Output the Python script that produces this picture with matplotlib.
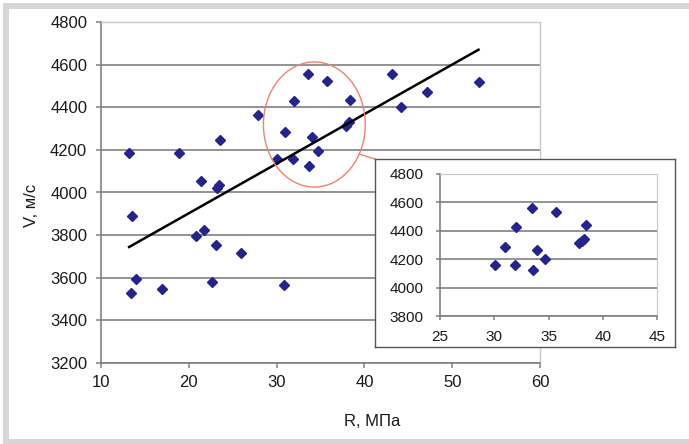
import numpy as np
import matplotlib
matplotlib.use("Agg")
import matplotlib.pyplot as plt
from matplotlib.patches import Ellipse, Rectangle, ConnectionPatch

plt.rcParams['font.family'] = ['Liberation Sans', 'DejaVu Sans']

# Data: R (MPa) and V (m/s)
R = [13.2, 13.5, 18.9, 21.4, 23.2, 23.4, 23.5, 27.9, 30.0, 30.9, 32.0, 31.9,
     33.6, 33.7, 34.0, 34.7, 35.7, 37.9, 38.2, 38.4, 43.1, 53.0, 47.1, 44.2,
     20.8, 21.7, 23.1, 25.9, 14.0, 13.4, 17.0, 22.6, 30.8]
V = [4185, 3890, 4185, 4055, 4020, 4035, 4245, 4365, 4155, 4285, 4430, 4155,
     4555, 4125, 4260, 4195, 4525, 4310, 4330, 4435, 4555, 4520, 4470, 4400,
     3795, 3825, 3755, 3715, 3595, 3530, 3545, 3580, 3565]

# Inset (zoomed region) data
R_in = [30.1, 31.0, 32.0, 31.9, 33.5, 33.6, 33.9, 34.7, 35.7, 37.8, 38.1, 38.3, 38.5]
V_in = [4158, 4287, 4428, 4158, 4558, 4127, 4264, 4198, 4530, 4311, 4329, 4339, 4440]

main_xticks = [10, 20, 30, 40, 50, 60]
main_yticks = [3200, 3400, 3600, 3800, 4000, 4200, 4400, 4600, 4800]
in_xticks = [25, 30, 35, 40, 45]
in_yticks = [3800, 4000, 4200, 4400, 4600, 4800]

W, H = 689, 444
fig = plt.figure(figsize=(W / 100, H / 100), dpi=100)

def ax_rect(l, t, r, b):
    return [l / W, 1 - b / H, (r - l) / W, (b - t) / H]

# outer gray frame
frame = fig.add_axes([0, 0, 1, 1])
frame.set_xlim(0, W); frame.set_ylim(H, 0); frame.axis('off')
gray = '#d6d6d6'
frame.add_patch(Rectangle((3, 3), W - 3, 6, color=gray, lw=0))
frame.add_patch(Rectangle((3, 3), 6, H - 3, color=gray, lw=0))
frame.add_patch(Rectangle((3, 439), W - 3, 5, color=gray, lw=0))

marker_color = '#24248f'
grid_color = '#8a8a8a'
tick_color = '#1a1a1a'

ax = fig.add_axes(ax_rect(101, 22, 540, 363))
ax.set_xlim(10, 60)
ax.set_ylim(3200, 4800)
ax.set_xticks(main_xticks)
ax.set_yticks(main_yticks)
ax.yaxis.grid(True, color=grid_color, lw=1.3)
ax.set_axisbelow(True)
for s in ['top', 'right']:
    ax.spines[s].set_color('#c8c8c8')
    ax.spines[s].set_linewidth(1.0)
for s in ['left', 'bottom']:
    ax.spines[s].set_color('#808080')
    ax.spines[s].set_linewidth(1.2)
ax.tick_params(direction='out', length=3.6, width=1.1, color='#808080',
               labelsize=12, labelcolor=tick_color)
ax.tick_params(axis='y', pad=6.3)
ax.tick_params(axis='x', pad=5)
ax.plot(R, V, linestyle='none', marker='D', ms=4.6, color=marker_color, zorder=3)

# linear trend line
k, b0 = np.polyfit(R, V, 1)
xr = np.array([min(R), max(R)])
ax.plot(xr, k * xr + b0, color='black', lw=1.8, zorder=4)

fig.text(372.5 / W, 1 - 421 / H, 'R, МПа', fontsize=12, color=tick_color,
         ha='center', va='center')
fig.text(31 / W, 1 - 205 / H, 'V, м/с', fontsize=12, color=tick_color,
         ha='center', va='center', rotation=90)

# red ellipse
ell = Ellipse((34.3, 4319), 11.6, 587, fill=False, edgecolor='#f08070', lw=1.0, zorder=5)
ax.add_patch(ell)

# inset box
box = fig.add_axes(ax_rect(375, 159, 675, 347))
box.set_xticks([]); box.set_yticks([])
box.set_facecolor('white')
for s in box.spines.values():
    s.set_color('#555555'); s.set_linewidth(1.0)
box.set_zorder(10)

con = ConnectionPatch(xyA=(39.43, 4180), coordsA=ax.transData,
                      xyB=(0, 1), coordsB=box.transAxes,
                      color='#f08070', lw=1.0, zorder=6)
fig.add_artist(con)

ins = fig.add_axes(ax_rect(440, 174, 657, 316))
ins.set_zorder(11)
ins.set_xlim(25, 45)
ins.set_ylim(3800, 4800)
ins.set_xticks(in_xticks)
ins.set_yticks(in_yticks)
ins.yaxis.grid(True, color=grid_color, lw=1.3)
ins.set_axisbelow(True)
for s in ['top', 'right']:
    ins.spines[s].set_color('#c8c8c8')
for s in ['left', 'bottom']:
    ins.spines[s].set_color('#808080')
    ins.spines[s].set_linewidth(1.2)
ins.tick_params(direction='out', length=3, width=1.1, color='#808080',
                labelsize=11, labelcolor=tick_color)
ins.tick_params(axis='y', pad=9)
ins.tick_params(axis='x', pad=7)
ins.plot(R_in, V_in, linestyle='none', marker='D', ms=4.6, color=marker_color, zorder=3)

fig.savefig('out.png', dpi=100)
